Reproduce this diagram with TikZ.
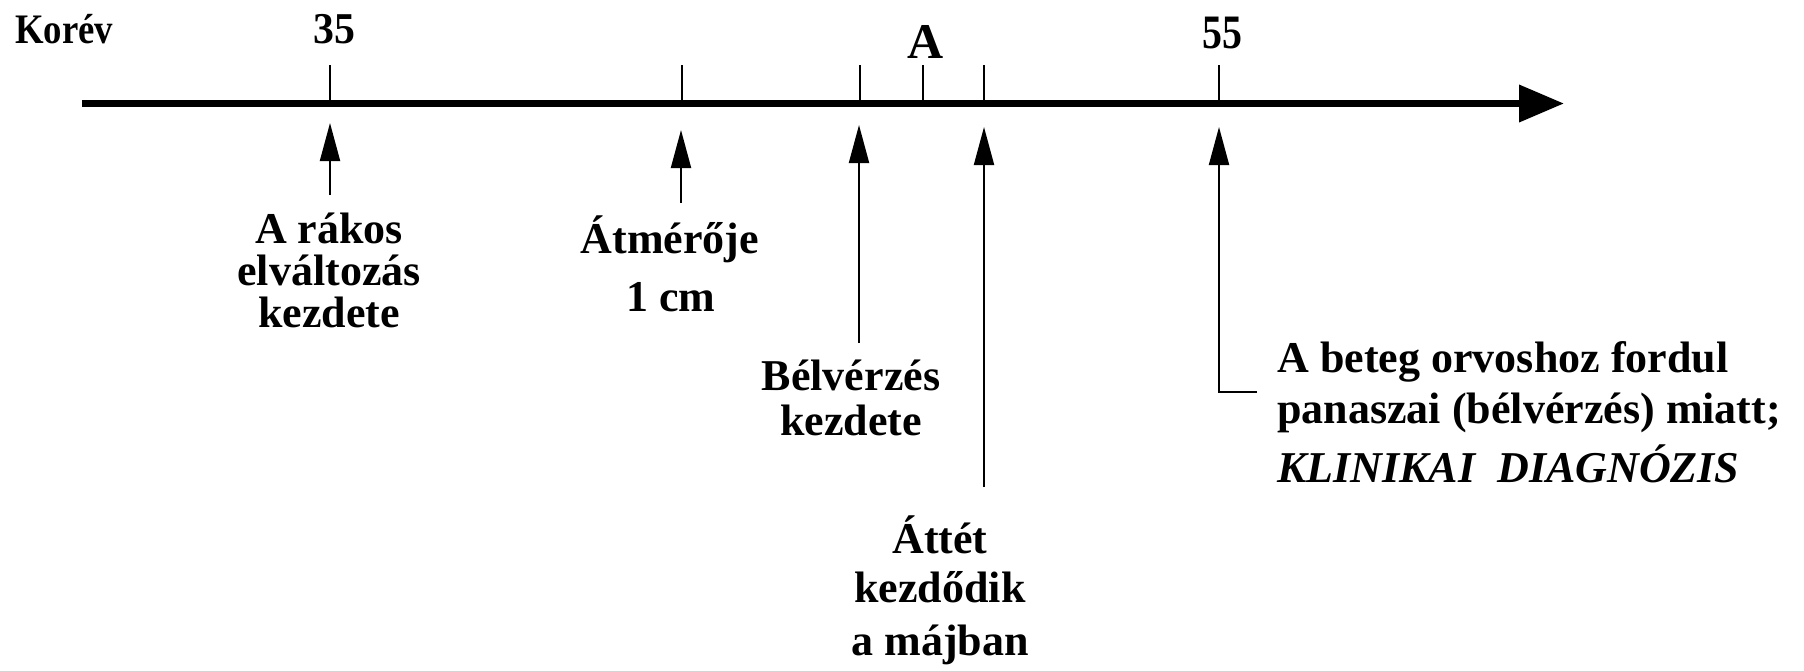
\documentclass[tikz,border=0pt]{standalone}
\usepackage{fontspec}
\setmainfont{Liberation Serif}
\usetikzlibrary{arrows.meta}
\begin{document}
\begin{tikzpicture}[x=0.5pt,y=-0.5pt,
  lbl/.style={font=\fontsize{22}{24}\selectfont\bfseries, inner sep=0pt, anchor=base},
  toplbl/.style={inner sep=0pt, anchor=base},
  tickline/.style={line width=1pt},
  arr/.style={line width=1pt, -{Triangle[length=19pt,width=10pt]}},
]
\useasboundingbox (0,0) rectangle (1804,670);
% axis
\coordinate (ax0) at (82,103.5);
\coordinate (ax1) at (1564,103.5);
\draw[line width=3.5pt, -{Triangle[length=22.5pt,width=18pt]}] (ax0) -- (ax1);
% ticks
\foreach \n/\x in {t35/330, tatm/682, tbel/860, tA/923, tatt/984, t55/1219}{
  \coordinate (\n) at (\x,103.5);
  \coordinate (\n top) at (\x,65);
  \draw[tickline] (\n top) -- (\n);
}
% top labels
\node[toplbl, anchor=base west, font=\fontsize{21}{23}\selectfont\bfseries] (korev) at (15,43) {\scalebox{0.875}[1]{Korév}};
\node[toplbl, font=\fontsize{22}{24}\selectfont\bfseries] (n35) at (334,43) {\scalebox{0.95}[1]{35}};
\node[toplbl, font=\fontsize{25}{27}\selectfont\bfseries] (nA) at (926,58) {A};
\node[toplbl, font=\fontsize{24}{26}\selectfont\bfseries] (n55) at (1222,48) {\scalebox{0.83}[1]{55}};
% label 1
\node[lbl] (a1) at (329,243) {A rákos};
\node[lbl] (a2) at (329,285) {elváltozás};
\node[lbl] (a3) at (329,327) {kezdete};
% label 2
\node[lbl] (b1) at (670,253) {Átmérője};
\node[lbl] (b2) at (671,311) {1 cm};
% label 3
\node[lbl] (c1) at (851,390) {Bélvérzés};
\node[lbl] (c2) at (851,435) {kezdete};
% label 4
\node[lbl] (d1) at (940,553) {Áttét};
\node[lbl] (d2) at (940,602) {kezdődik};
\node[lbl] (d3) at (940,655) {a májban};
% label 5
\node[lbl, anchor=base west] (e1) at (1277,372) {A beteg orvoshoz fordul};
\node[lbl, anchor=base west] (e2) at (1277,423) {panaszai (bélvérzés) miatt;};
\node[lbl, anchor=base west, font=\fontsize{22}{24}\selectfont\bfseries\itshape] (e3) at (1277,482) {KLINIKAI\ \ DIAGNÓZIS};
% arrows
\coordinate (s1) at (330,195);  \coordinate (p1) at (330,123);
\coordinate (s2) at (681,203);  \coordinate (p2) at (681,130);
\coordinate (s3) at (859,343);  \coordinate (p3) at (859,125);
\coordinate (s4) at (984,487);  \coordinate (p4) at (984,127);
\coordinate (s5) at (1257,392); \coordinate (k5) at (1219,392); \coordinate (p5) at (1219,127);
\draw[arr] (s1) -- (p1);
\draw[arr] (s2) -- (p2);
\draw[arr] (s3) -- (p3);
\draw[arr] (s4) -- (p4);
\draw[arr] (s5) -- (k5) -- (p5);
\end{tikzpicture}
\end{document}
